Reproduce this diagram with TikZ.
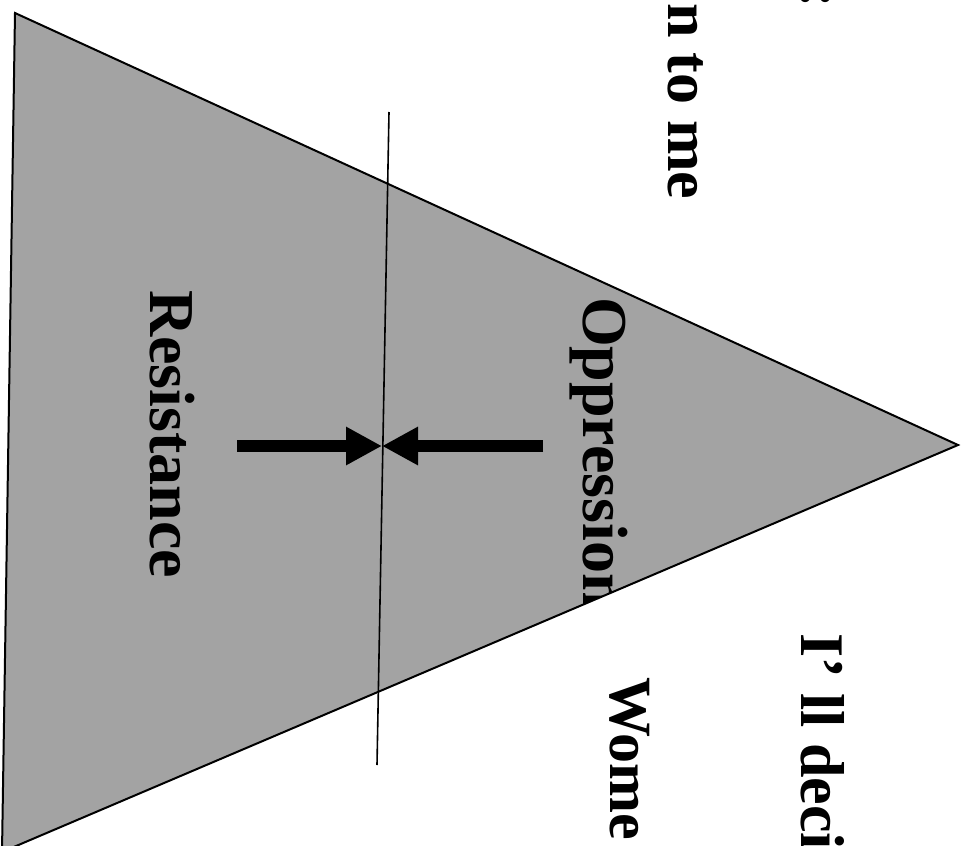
\documentclass[tikz,border=0pt]{standalone}
\usepackage{fontspec}
\setmainfont{Liberation Serif}
\usetikzlibrary{arrows.meta}
\definecolor{trigray}{RGB}{163,163,163}
\begin{document}
\begin{tikzpicture}[x=1pt,y=-1pt,
  lbl/.style={rotate=-90,anchor=base west,inner sep=0pt,outer sep=0pt},
  bigfont/.style={font=\bfseries\fontsize{64}{64}\selectfont},
  midfont/.style={font=\bfseries\fontsize{62}{62}\selectfont},
  wfont/.style={font=\bfseries\fontsize{60}{60}\selectfont},
  thrust/.style={line width=12pt,-{Triangle[length=36pt,width=36pt]}}]
\useasboundingbox (0,0) rectangle (967,846);
\clip (0,0) rectangle (967,846);
% triangle
\coordinate (A) at (15,13);
\coordinate (B) at (958,445);
\coordinate (C) at (2,852);
\draw[fill=trigray,line width=2pt,line join=miter] (A) -- (B) -- (C) -- cycle;
% vertical line
\coordinate (T) at (389,112);
\coordinate (U) at (377,765);
\draw[line width=1.6pt] (T) -- (U);
% arrows
\coordinate (L) at (237,446);
\coordinate (M) at (382,446);
\coordinate (R) at (543,446);
\draw[thrust] (L) -- (M);
\draw[thrust] (R) -- (M);
% labels
\node[lbl,bigfont] (res) at (150,290) {Resistance};
\begin{scope}
  \clip (A) -- (B) -- (C) -- cycle;
  \node[lbl,bigfont] (opp) at (583,297) {Oppression};
\end{scope}
\node[lbl,midfont] (tome) at (668,3) {n to me};
\node[lbl,wfont] (wome) at (610,677) {Wome};
\node[lbl,midfont] (deci) at (801,633) {I’ ll deci};
\node[lbl,midfont] (colon) at (801,-13) {:};
\end{tikzpicture}
\end{document}
